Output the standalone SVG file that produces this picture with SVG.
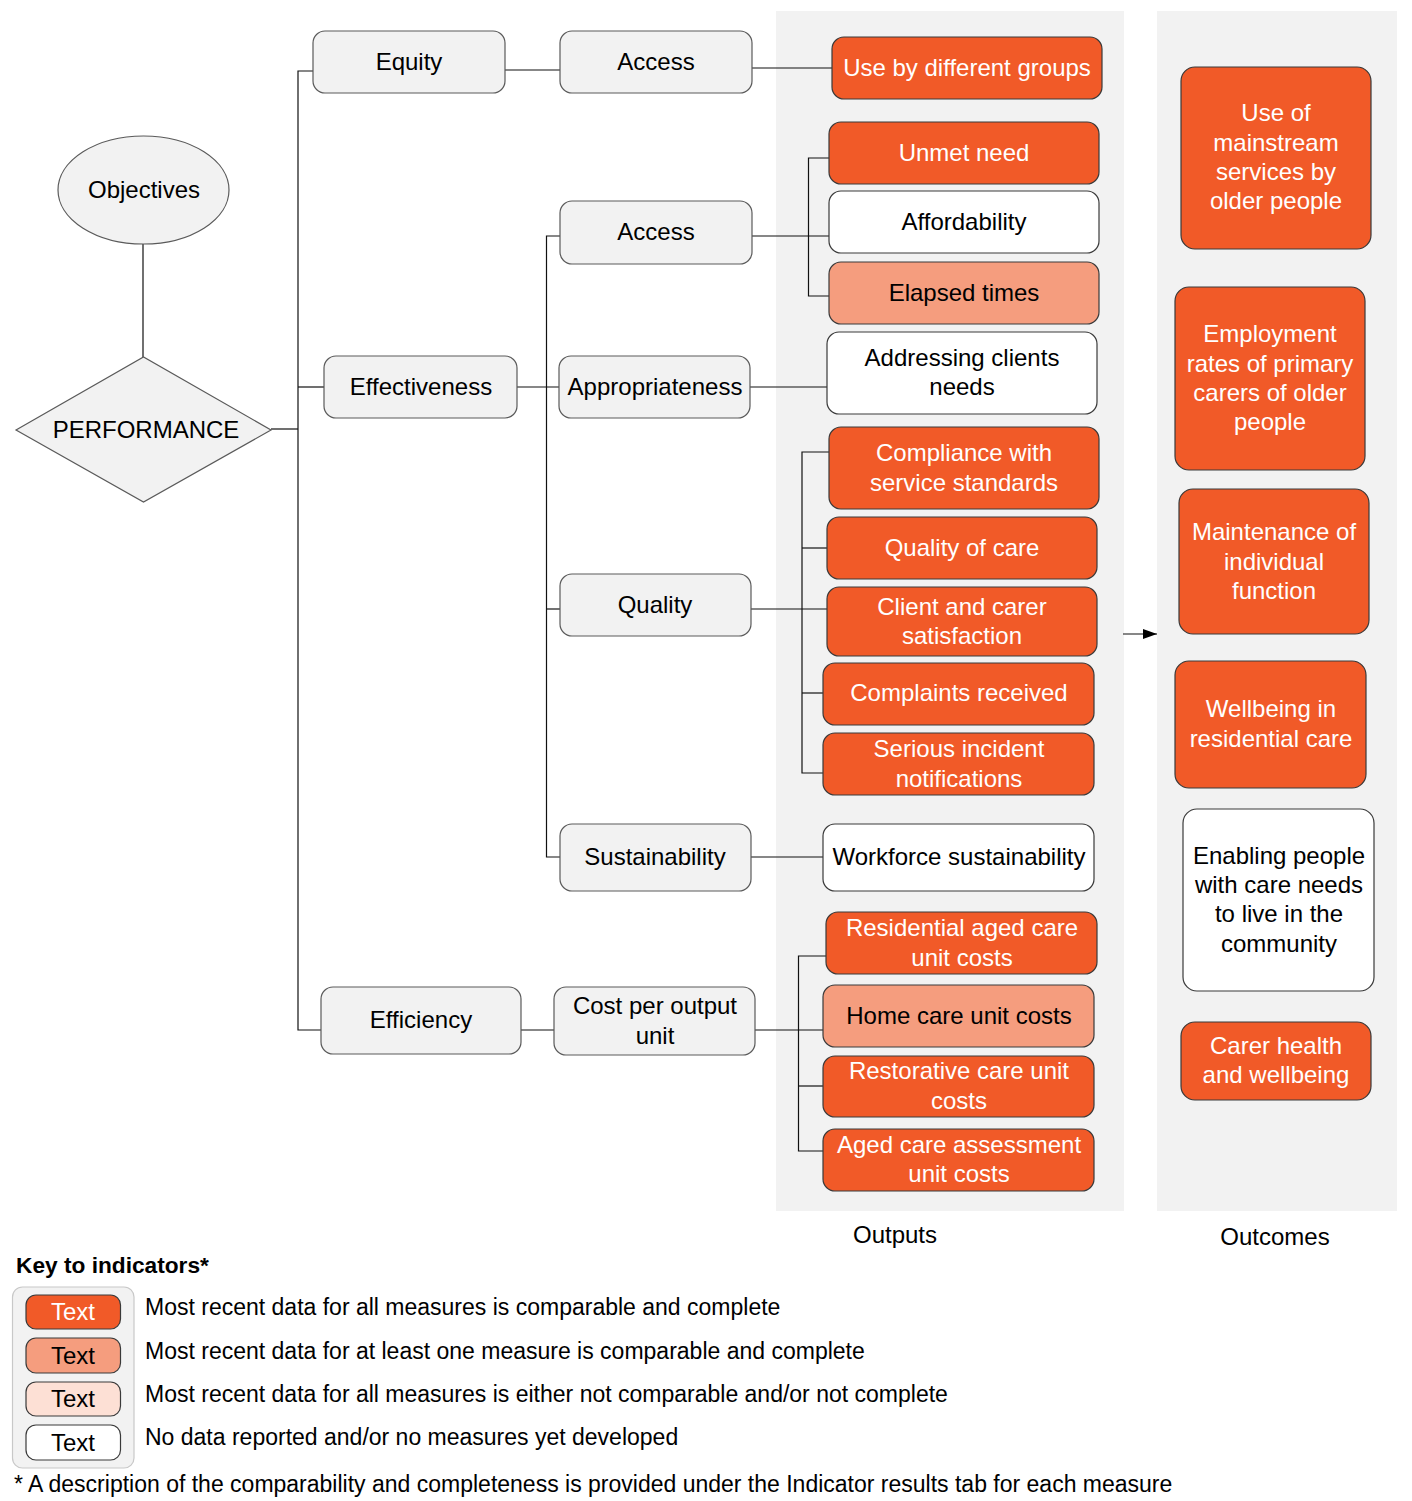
<svg xmlns="http://www.w3.org/2000/svg" width="1412" height="1501" viewBox="0 0 1412 1501">
<defs>
<style>
text{font-family:"Liberation Sans",Arial,sans-serif;font-size:24px;text-anchor:middle;fill:#000}
.w{fill:#fff}
.g{fill:#f2f2f2;stroke:#5a5a5a;stroke-width:1.2}
.o{fill:#f15a28;stroke:#3a3a3a;stroke-width:1.2}
.s{fill:#f59d7e;stroke:#3a3a3a;stroke-width:1.2}
.l{fill:#fde0d5;stroke:#3a3a3a;stroke-width:1.2}
.n{fill:#fff;stroke:#3a3a3a;stroke-width:1.2}
.panel{fill:#f2f2f2}
.c{fill:none;stroke:#111;stroke-width:1.2}
.leg{text-anchor:start;font-size:23px}
</style>
<marker id="ar" viewBox="0 0 14 10" refX="14" refY="5" markerWidth="14" markerHeight="10" markerUnits="userSpaceOnUse" orient="auto"><path d="M0,0 L14,5 L0,10 z" fill="#000"/></marker>
</defs>
<rect width="1412" height="1501" fill="#fff"/>
<rect class="panel" x="776" y="11" width="348" height="1200"/>
<rect class="panel" x="1157" y="11" width="240" height="1200"/>
<text x="895" y="1243">Outputs</text>
<text x="1275" y="1245">Outcomes</text>

<g id="connectors">
<path class="c" d="M143,244 V357"/>
<path class="c" d="M271,429 H298"/>
<path class="c" d="M313,71 H298 V1030 H321"/>
<path class="c" d="M298,387 H324"/>
<path class="c" d="M505,70 H560"/>
<path class="c" d="M752,68 H832"/>
<path class="c" d="M517,387 H559"/>
<path class="c" d="M560,236 H546.5 V857 H560"/>
<path class="c" d="M546.5,609 H560"/>
<path class="c" d="M752,236 H829"/>
<path class="c" d="M829,158 H808.5 V296 H829"/>
<path class="c" d="M750,387 H827"/>
<path class="c" d="M751,609 H827"/>
<path class="c" d="M829,452 H802 V773 H823"/>
<path class="c" d="M802,548 H827"/>
<path class="c" d="M802,693 H823"/>
<path class="c" d="M751,857 H823"/>
<path class="c" d="M520,1030 H554"/>
<path class="c" d="M755,1030 H823"/>
<path class="c" d="M826,956 H798.5 V1151 H823"/>
<path class="c" d="M798.5,1086 H823"/>
<path class="c" d="M1123,634 H1157" marker-end="url(#ar)"/>
</g>

<g id="objectives"><ellipse class="g" cx="143.5" cy="190" rx="85.5" ry="54"/><text x="144" y="198">Objectives</text></g>
<g id="performance"><polygon class="g" points="16,430 143.5,357 271,430 143.5,502"/><text x="146" y="438">PERFORMANCE</text></g>

<g id="equity"><rect class="g" x="313" y="31" width="192" height="62" rx="12"/><text x="409" y="70">Equity</text></g>
<g id="effectiveness"><rect class="g" x="324" y="356" width="193" height="62" rx="12"/><text x="421" y="395">Effectiveness</text></g>
<g id="efficiency"><rect class="g" x="321" y="987" width="200" height="67" rx="12"/><text x="421" y="1028">Efficiency</text></g>

<g id="access1"><rect class="g" x="560" y="31" width="192" height="62" rx="12"/><text x="656" y="70">Access</text></g>
<g id="access2"><rect class="g" x="560" y="201" width="192" height="63" rx="12"/><text x="656" y="240">Access</text></g>
<g id="appropriateness"><rect class="g" x="559" y="356" width="191" height="62" rx="12"/><text x="655" y="395">Appropriateness</text></g>
<g id="quality"><rect class="g" x="560" y="574" width="191" height="62" rx="12"/><text x="655" y="613">Quality</text></g>
<g id="sustainability"><rect class="g" x="560" y="824" width="191" height="67" rx="12"/><text x="655" y="865">Sustainability</text></g>
<g id="costper"><rect class="g" x="554" y="987" width="201" height="68" rx="12"/><text x="655" y="1014">Cost per output</text><text x="655" y="1044">unit</text></g>

<g id="usebygroups"><rect class="o" x="832" y="37" width="270" height="62" rx="12"/><text class="w" x="967" y="76">Use by different groups</text></g>
<g id="unmet"><rect class="o" x="829" y="122" width="270" height="62" rx="12"/><text class="w" x="964" y="161">Unmet need</text></g>
<g id="afford"><rect class="n" x="829" y="191" width="270" height="62" rx="12"/><text x="964" y="230">Affordability</text></g>
<g id="elapsed"><rect class="s" x="829" y="262" width="270" height="62" rx="12"/><text x="964" y="301">Elapsed times</text></g>
<g id="addressing"><rect class="n" x="827" y="332" width="270" height="82" rx="12"/><text x="962" y="366">Addressing clients</text><text x="962" y="395">needs</text></g>
<g id="compliance"><rect class="o" x="829" y="427" width="270" height="82" rx="12"/><text class="w" x="964" y="461">Compliance with</text><text class="w" x="964" y="491">service standards</text></g>
<g id="qualitycare"><rect class="o" x="827" y="517" width="270" height="62" rx="12"/><text class="w" x="962" y="556">Quality of care</text></g>
<g id="satisfaction"><rect class="o" x="827" y="587" width="270" height="69" rx="12"/><text class="w" x="962" y="615">Client and carer</text><text class="w" x="962" y="644">satisfaction</text></g>
<g id="complaints"><rect class="o" x="823" y="663" width="271" height="62" rx="12"/><text class="w" x="959" y="701">Complaints received</text></g>
<g id="serious"><rect class="o" x="823" y="733" width="271" height="62" rx="12"/><text class="w" x="959" y="757">Serious incident</text><text class="w" x="959" y="787">notifications</text></g>
<g id="workforce"><rect class="n" x="823" y="824" width="271" height="67" rx="12"/><text x="959" y="865">Workforce sustainability</text></g>
<g id="residential"><rect class="o" x="826" y="912" width="271" height="62" rx="12"/><text class="w" x="962" y="936">Residential aged care</text><text class="w" x="962" y="966">unit costs</text></g>
<g id="homecare"><rect class="s" x="823" y="985" width="271" height="62" rx="12"/><text x="959" y="1024">Home care unit costs</text></g>
<g id="restorative"><rect class="o" x="823" y="1056" width="271" height="61" rx="12"/><text class="w" x="959" y="1079">Restorative care unit</text><text class="w" x="959" y="1109">costs</text></g>
<g id="assessment"><rect class="o" x="823" y="1129" width="271" height="62" rx="12"/><text class="w" x="959" y="1153">Aged care assessment</text><text class="w" x="959" y="1182">unit costs</text></g>

<g id="mainstream"><rect class="o" x="1181" y="67" width="190" height="182" rx="14"/><text class="w" x="1276" y="121">Use of</text><text class="w" x="1276" y="151">mainstream</text><text class="w" x="1276" y="180">services by</text><text class="w" x="1276" y="209">older people</text></g>
<g id="employment"><rect class="o" x="1175" y="287" width="190" height="183" rx="14"/><text class="w" x="1270" y="342">Employment</text><text class="w" x="1270" y="372">rates of primary</text><text class="w" x="1270" y="401">carers of older</text><text class="w" x="1270" y="430">people</text></g>
<g id="maintenance"><rect class="o" x="1179" y="489" width="190" height="145" rx="14"/><text class="w" x="1274" y="540">Maintenance of</text><text class="w" x="1274" y="570">individual</text><text class="w" x="1274" y="599">function</text></g>
<g id="wellbeing"><rect class="o" x="1175" y="661" width="191" height="127" rx="14"/><text class="w" x="1271" y="717">Wellbeing in</text><text class="w" x="1271" y="747">residential care</text></g>
<g id="enabling"><rect class="n" x="1183" y="809" width="191" height="182" rx="14"/><text x="1279" y="864">Enabling people</text><text x="1279" y="893">with care needs</text><text x="1279" y="922">to live in the</text><text x="1279" y="952">community</text></g>
<g id="carerhealth"><rect class="o" x="1181" y="1022" width="190" height="78" rx="14"/><text class="w" x="1276" y="1054">Carer health</text><text class="w" x="1276" y="1083">and wellbeing</text></g>

<g id="legend">
<text x="16" y="1273" style="text-anchor:start;font-weight:bold;font-size:22.7px">Key to indicators*</text>
<rect x="12.5" y="1287" width="121.5" height="181" rx="10" fill="#f2f2f2" stroke="#c8c8c8" stroke-width="1.2"/>
<rect class="o" x="26" y="1295" width="94.5" height="34" rx="10"/><text class="w" x="73" y="1320">Text</text>
<rect class="s" x="26" y="1338" width="94.5" height="35" rx="10"/><text x="73" y="1364">Text</text>
<rect class="l" x="26" y="1382" width="94.5" height="34" rx="10"/><text x="73" y="1407">Text</text>
<rect class="n" x="26" y="1425" width="94.5" height="35" rx="10"/><text x="73" y="1451">Text</text>
<text class="leg" x="145" y="1315">Most recent data for all measures is comparable and complete</text>
<text class="leg" x="145" y="1359">Most recent data for at least one measure is comparable and complete</text>
<text class="leg" x="145" y="1402">Most recent data for all measures is either not comparable and/or not complete</text>
<text class="leg" x="145" y="1445">No data reported and/or no measures yet developed</text>
<text x="14" y="1492" style="text-anchor:start;font-size:23px">* A description of the comparability and completeness is provided under the Indicator results tab for each measure</text>
</g>
</svg>
